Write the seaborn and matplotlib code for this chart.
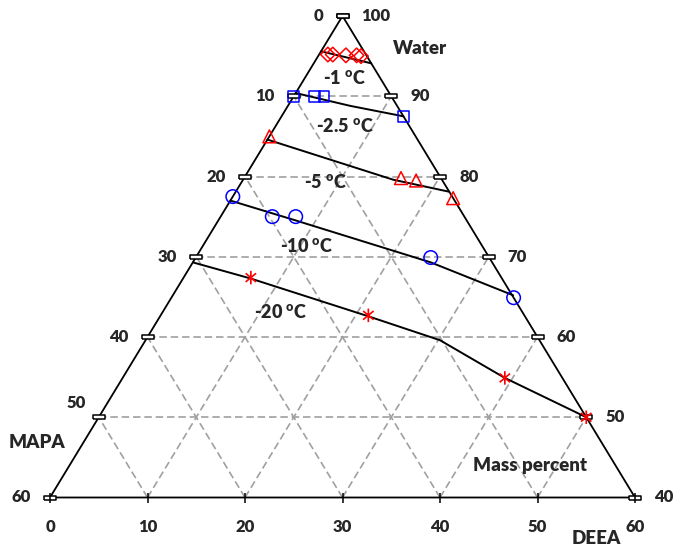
import numpy as np
import pandas as pd
import matplotlib
matplotlib.use("Agg")
import matplotlib.pyplot as plt
from matplotlib.path import Path
import seaborn as sns

# ---------------- data (mass percent; MAPA = 100 - DEEA - Water) ----------------
# measured points (DEEA, Water)
deea_m1 = [0.9, 1.4, 2.8, 3.9, 4.4]
water_m1 = [95.2, 95.2, 95.1, 95.1, 95.0]
deea_m25 = [0.0, 2.1, 3.1, 12.5]
water_m25 = [90.0, 90.0, 90.0, 87.5]
deea_m5 = [0.0, 16.1, 17.8, 22.7]
water_m5 = [85.0, 79.8, 79.5, 77.3]
deea_m10 = [0.0, 5.3, 7.7, 24.1, 35.1]
water_m10 = [77.5, 75.0, 75.0, 69.9, 64.9]
deea_m20 = [6.9, 21.3, 39.2, 50.0]
water_m20 = [67.4, 62.7, 54.9, 50.0]

# fitted isotherm curves (DEEA, Water)
fit_deea_m1 = [0.0, 5.9]
fit_water_m1 = [95.6, 94.1]
fit_deea_m25 = [0.0, 6.4, 12.5]
fit_water_m25 = [90.4, 88.8, 87.5]
fit_deea_m5 = [0.0, 15.4, 21.9]
fit_water_m5 = [84.6, 79.6, 78.1]
fit_deea_m10 = [0.0, 7.7, 24.4, 34.9]
fit_water_m10 = [77.0, 74.6, 69.3, 65.2]
fit_deea_m20 = [0.0, 6.9, 21.3, 30.2, 39.2, 50.0]
fit_water_m20 = [69.3, 67.3, 62.6, 59.6, 54.9, 50.0]

iso_labels = ["-1", "-2.5", "-5", "-10", "-20"]
grid_levels = [10, 20, 30, 40, 50]
mapa_ticks = [0, 10, 20, 30, 40, 50, 60]
water_ticks = [100, 90, 80, 70, 60, 50, 40]
deea_ticks = [0, 10, 20, 30, 40, 50, 60]

# ---------------- style ----------------
sns.set_theme(style="white")
plt.rcParams["font.family"] = ["Lato", "DejaVu Sans"]
plt.rcParams["font.weight"] = "heavy"
plt.rcParams["mathtext.fontset"] = "custom"
plt.rcParams["mathtext.rm"] = "Lato:heavy"
plt.rcParams["mathtext.bf"] = "Lato:heavy"
plt.rcParams["mathtext.it"] = "Lato:heavy"
FW = "heavy"

# pixel geometry of the reference: left vertex (50,497.5), 9.75 px / unit horizontally, 8.025 px / unit vertically
W, H = 674, 548
PX0, PY0, SX, SY = 50.0, 497.5, 9.75, 8.025


def tern(d, w):
    d = np.asarray(d, float)
    w = np.asarray(w, float)
    return d + (w - 40.0) / 2.0, w - 40.0


def px2data(px, py):
    return (px - PX0) / SX, (PY0 - py) / SY


fig = plt.figure(figsize=(W / 100, H / 100), dpi=100)
ax = fig.add_axes([0, 0, 1, 1])
ax.set_xlim(px2data(0, 0)[0], px2data(W, 0)[0])
ax.set_ylim(px2data(0, H)[1], px2data(0, 0)[1])
ax.axis("off")

grid_kw = dict(color="#A0A0A0", lw=1.2, ls=(0, (4.5, 2.3)), zorder=1)
for k in grid_levels:
    # constant water
    w = 100 - k
    x1, y1 = tern(0, w)
    x2, y2 = tern(100 - w, w)
    ax.plot([x1, x2], [y1, y2], **grid_kw)
    # constant DEEA = k : bottom -> right edge
    x1, y1 = tern(k, 40)
    x2, y2 = tern(k, 100 - k)
    ax.plot([x1, x2], [y1, y2], **grid_kw)
    # constant MAPA = k : bottom -> left edge
    x1, y1 = tern(60 - k, 40)
    x2, y2 = tern(0, 100 - k)
    ax.plot([x1, x2], [y1, y2], **grid_kw)

# triangle frame
fx, fy = tern([0, 60, 0, 0], [40, 40, 100, 40])
ax.plot(fx, fy, color="black", lw=1.3, zorder=2, solid_joinstyle="miter")

# tick marks
rect = Path([(-1, -0.32), (1, -0.32), (1, 0.32), (-1, 0.32), (-1, -0.32)])
lx, ly = tern(np.zeros(len(mapa_ticks)), 100 - np.array(mapa_ticks))
ax.plot(lx, ly, ls="none", marker=rect, ms=8, mfc="white", mec="black", mew=1.1, zorder=3)
rx, ry = tern(100 - np.array(water_ticks), np.array(water_ticks))
ax.plot(rx, ry, ls="none", marker=rect, ms=8, mfc="white", mec="black", mew=1.1, zorder=3)
bx, by = tern(np.array(deea_ticks), np.full(len(deea_ticks), 40))
ax.plot(bx, by, ls="none", marker="|", ms=6.5, mec="black", mew=1.1, zorder=3)

# fitted curves
fits = [(fit_deea_m1, fit_water_m1), (fit_deea_m25, fit_water_m25), (fit_deea_m5, fit_water_m5),
        (fit_deea_m10, fit_water_m10), (fit_deea_m20, fit_water_m20)]
for fd, fw in fits:
    x, y = tern(fd, fw)
    sns.lineplot(x=x, y=y, sort=False, estimator=None, color="black", lw=1.4, ax=ax, zorder=4)

# measured points
series = [
    (deea_m1, water_m1, "D", 55, "#FF0000"),
    (deea_m25, water_m25, "s", 62, "#0000FF"),
    (deea_m5, water_m5, "^", 85, "#FF0000"),
    (deea_m10, water_m10, "o", 95, "#0000FF"),
]
for d, w, mk, s, c in series:
    x, y = tern(d, w)
    sns.scatterplot(x=x, y=y, marker=mk, s=s, facecolor="none", edgecolor=c, color=c,
                    linewidth=1.1, ax=ax, zorder=5)

# six-armed asterisk marker (vertical bar + X)
ast = Path([(0, -1), (0, 1), (-0.77, -0.64), (0.77, 0.64), (-0.77, 0.64), (0.77, -0.64)],
           [Path.MOVETO, Path.LINETO, Path.MOVETO, Path.LINETO, Path.MOVETO, Path.LINETO])
x, y = tern(deea_m20, water_m20)
sns.scatterplot(x=x, y=y, marker=ast, s=95, facecolor="none", edgecolor="#FF0000",
                color="#FF0000", linewidth=1.2, ax=ax, zorder=5)

# tick labels
fs = 12
for m, (x, y) in zip(mapa_ticks, zip(lx, ly)):
    if m == 50:
        ax.annotate("50", xy=(x, y), xytext=(-13, 14), textcoords="offset pixels",
                    ha="right", va="center", fontsize=fs, fontweight=FW)
    else:
        ax.annotate(str(m), xy=(x, y), xytext=(-19, 0), textcoords="offset pixels",
                    ha="right", va="center", fontsize=fs, fontweight=FW)
for wv, (x, y) in zip(water_ticks, zip(rx, ry)):
    ax.annotate(str(wv), xy=(x, y), xytext=(19, 0), textcoords="offset pixels",
                ha="left", va="center", fontsize=fs, fontweight=FW)
for dv, (x, y) in zip(deea_ticks, zip(bx, by)):
    ax.annotate(str(dv), xy=(x, y), xytext=(0, -29), textcoords="offset pixels",
                ha="center", va="center", fontsize=fs, fontweight=FW)

# axis names
for txt, px, py in [("Water", 420, 48), ("MAPA", 37, 443), ("DEEA", 596, 539), ("Mass percent", 530, 466)]:
    ax.text(*px2data(px, py), txt, ha="center", va="center", fontsize=13.5, fontweight=FW)

# isotherm labels
iso_pos = [(345, 78), (345, 126), (326, 182), (307, 246), (281, 312)]
for lab, (px, py) in zip(iso_labels, iso_pos):
    ax.text(*px2data(px, py), lab + r" $^{\mathbf{o}}$C", ha="center", va="center",
            fontsize=13, fontweight=FW)

fig.savefig("out.png", dpi=100)
